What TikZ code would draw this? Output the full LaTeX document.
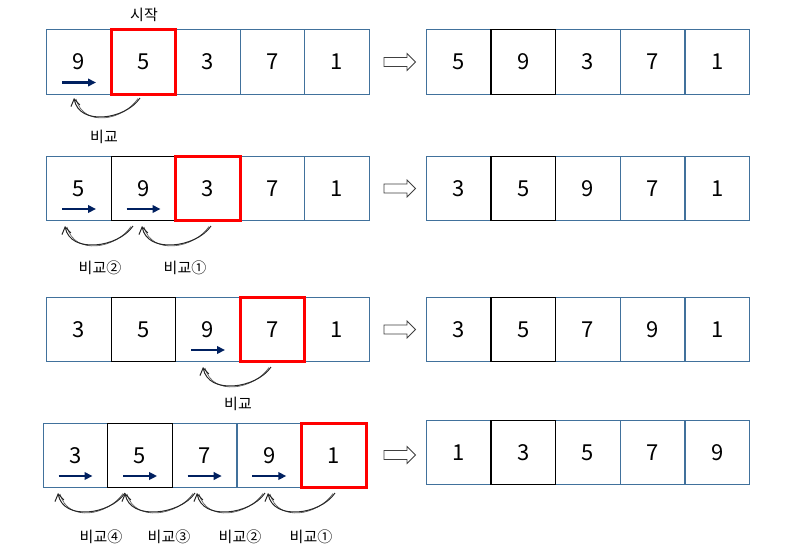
\documentclass[tikz,border=0pt]{standalone}
\usepackage{fontspec}
\setmainfont{Noto Sans CJK KR}
\usetikzlibrary{arrows.meta,calc}
\definecolor{cellblue}{HTML}{41719C}
\definecolor{navy}{HTML}{002060}
\begin{document}
\begin{tikzpicture}[x=1pt,y=-1pt,
  cell/.style={draw=cellblue,line width=1.1pt,minimum width=64.5pt,minimum height=64.5pt,inner sep=0pt,outer sep=0pt,font=\fontsize{22}{26}\selectfont},
  blackframe/.style={draw=black,line width=1.1pt},
  redframe/.style={draw=red,line width=3pt},
  navyarrow/.style={draw=navy,line width=2.8pt,-{Triangle[length=8pt,width=7.5pt]}},
  cmp/.style={draw=black!85,line width=1pt,-{Straight Barb[length=7pt,width=9pt]}},
  cmpshadow/.style={draw=black!65,line width=0.6pt},
  lbl/.style={font=\fontsize{15}{17}\selectfont,inner sep=0pt},
  hollow/.style={draw=black!75,line width=0.8pt,fill=white}]
\useasboundingbox (0,0) rectangle (787,557);
\fill[white] (0,0) rectangle (787,557);

% ---- left rows
\foreach \v [count=\i] in {9,5,3,7,1}
  \node[cell] (La\i) at ({79+64.5*(\i-1)},62) {\v};
\foreach \v [count=\i] in {5,9,3,7,1}
  \node[cell] (Lb\i) at ({79+64.5*(\i-1)},188.5) {\v};
\foreach \v [count=\i] in {3,5,9,7,1}
  \node[cell] (Lc\i) at ({79+64.5*(\i-1)},329.5) {\v};
\foreach \v [count=\i] in {3,5,7,9,1}
  \node[cell] (Ld\i) at ({75.5+64.6*(\i-1)},455.5) {\v};

% ---- right rows
\foreach \v [count=\i] in {5,9,3,7,1}
  \node[cell] (Ra\i) at ({458.5+64.7*(\i-1)},62) {\v};
\foreach \v [count=\i] in {3,5,9,7,1}
  \node[cell] (Rb\i) at ({458.5+64.7*(\i-1)},188.5) {\v};
\foreach \v [count=\i] in {3,5,7,9,1}
  \node[cell] (Rc\i) at ({458.5+64.7*(\i-1)},329.5) {\v};
\foreach \v [count=\i] in {1,3,5,7,9}
  \node[cell] (Rd\i) at ({458.5+64.7*(\i-1)},452.5) {\v};

% black frames
\foreach \n in {Lb2,Lc2,Ld2,Ra2,Rb2,Rc2,Rd2}
  \draw[blackframe] (\n.south west) rectangle (\n.north east);
% red frames
\foreach \n in {La2,Lb3,Lc4,Ld5}
  \draw[redframe] (\n.south west) rectangle (\n.north east);

% ---- hollow arrows
\foreach \y in {62,188.5,329.5,455}
  \draw[hollow] (384,\y-4.5) -- (407,\y-4.5) -- (407,\y-8.5) -- (415.5,\y) -- (407,\y+8.5) -- (407,\y+4.5) -- (384,\y+4.5) -- cycle;

% ---- navy arrows
\foreach \n in {La1,Lb1,Lb2,Lc3,Ld1,Ld2,Ld3,Ld4}{
  \coordinate (\n s) at ($(\n.center)+(-17,20.5)$);
  \coordinate (\n e) at ($(\n.center)+(17,20.5)$);
  \draw[navyarrow] (\n s) -- (\n e);
}

% ---- comparison curves
\foreach \k/\sx/\tx/\yy in {a/140/74/98, b/133/65/226, c/211/142/226, d/271/203/367, e/335/268/493, f/265/197/493, g/195/125/493, h/125/58/493}{
  \coordinate (C\k s) at (\sx,\yy);
  \coordinate (C\k t) at (\tx,\yy);
  \draw[cmpshadow] ($(C\k s)+(-2,0.5)$) .. controls +(-15,22) and +(8,29) .. ($(C\k t)+(2,1)$);
  \draw[cmp] (C\k s) .. controls +(-15,22) and +(5,28) .. (C\k t);
}

% ---- labels
\node[lbl] (t0) at (144,15) {시작};
\node[lbl] (t1) at (104,137) {비교};
\node[lbl] (t2) at (100,268) {비교②};
\node[lbl] (t3) at (185,268) {비교①};
\node[lbl] (t4) at (238,404) {비교};
\node[lbl] (t5) at (101,537) {비교④};
\node[lbl] (t6) at (169,537) {비교③};
\node[lbl] (t7) at (240,537) {비교②};
\node[lbl] (t8) at (311,537) {비교①};
\end{tikzpicture}
\end{document}
